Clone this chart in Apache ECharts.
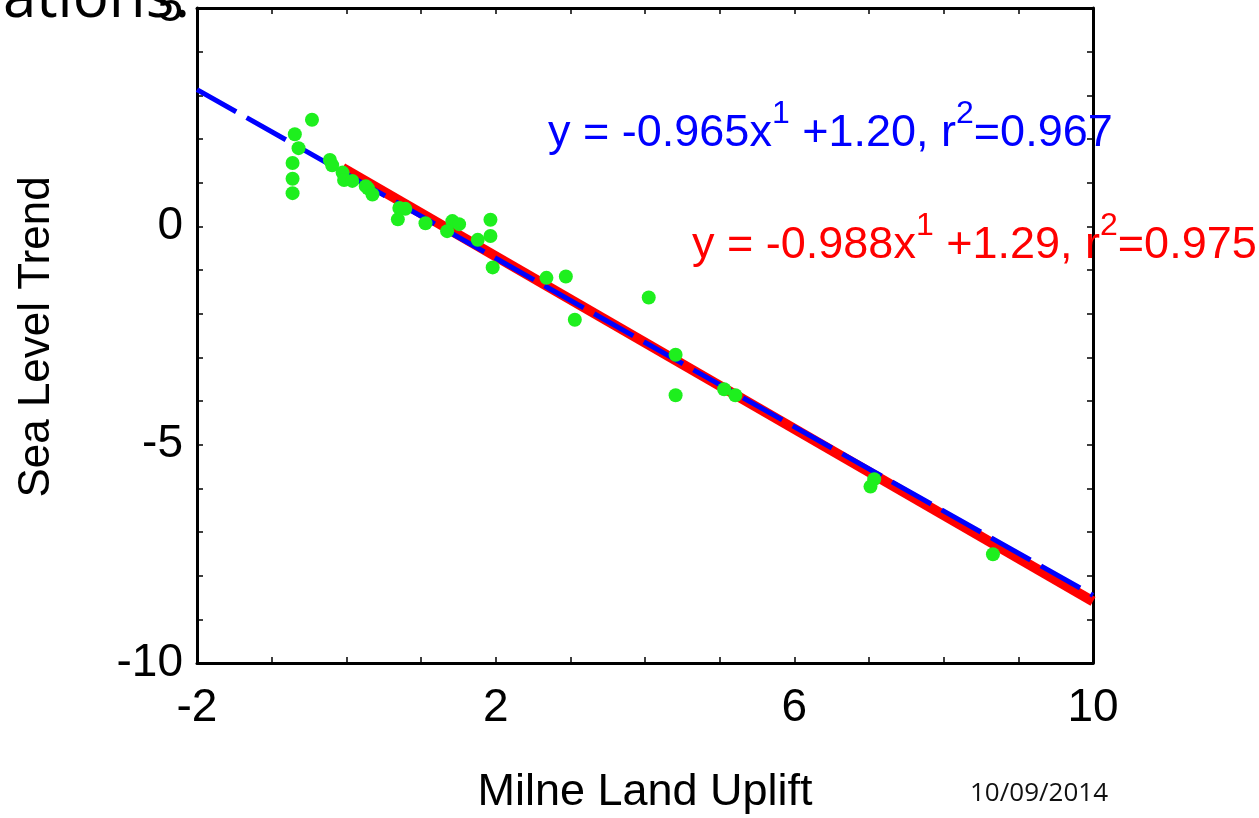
<!DOCTYPE html>
<html><head><meta charset="utf-8">
<script src="https://cdn.jsdelivr.net/npm/echarts@6/dist/echarts.min.js"></script>
<style>html,body{margin:0;padding:0;background:#fff;overflow:hidden}#c{width:1259px;height:818px}</style>
</head><body><div id="c"></div>
<script>
// Observed points: Milne land uplift (x) vs sea level trend (y)
const uplift = [-0.46,-0.69,-0.64,-0.72,-0.72,-0.72,-0.22,-0.19,-0.05,-0.03,0.08,0.26,0.29,0.35,0.71,0.79,0.69,1.06,1.42,1.51,1.35,1.76,1.93,1.93,1.96,2.68,2.94,3.06,4.05,4.41,4.41,5.06,5.21,7.07,7.02,8.66];
const trend  = [2.44,2.11,1.79,1.45,1.09,0.76,1.52,1.40,1.23,1.06,1.04,0.92,0.87,0.73,0.42,0.40,0.16,0.07,0.12,0.05,-0.11,-0.31,0.15,-0.22,-0.94,-1.18,-1.15,-2.14,-1.63,-2.94,-3.87,-3.73,-3.87,-5.79,-5.96,-7.51];
// Fit line end points (x, y)
const blueFitX = [-2, 10];
const blueFitY = [3.13, -8.45];
const redFitX = [-0.05, 10];
const redFitY = [1.34, -8.59];
// Tick labels
const xTickLabels = ['-2','2','6','10'];
const yTickLabels = ['-10','-5','0','5'];

const FONT = '"Liberation Sans", Arial, sans-serif';
const OPEN = '"Open Sans", "Noto Sans", sans-serif';
const chart = echarts.init(document.getElementById('c'), null, {renderer:'canvas'});

function pairs(xs, ys){ return xs.map((x,i)=>[x, ys[i]]); }

const axisLine = {show:true, onZero:false, lineStyle:{color:'#000', width:3}};
const axisTick = {show:true, inside:true, length:6, lineStyle:{color:'#000', width:1.5}};

chart.setOption({
  animation:false,
  backgroundColor:'#fff',
  grid:{left:197, right:166, top:8, bottom:155, containLabel:false, outerBoundsMode:'none'},
  xAxis:[{
    type:'value', min:-2, max:10, interval:1, position:'bottom',
    axisLine, axisTick, splitLine:{show:false},
    axisLabel:{margin:22, color:'#000', fontFamily:FONT, fontSize:46,
      formatter:v=>{const s=String(v); return xTickLabels.indexOf(s)>=0?s:'';}}
  },{
    type:'value', min:-2, max:10, interval:1, position:'top',
    axisLine, axisTick, splitLine:{show:false}, axisLabel:{show:false}
  }],
  yAxis:[{
    type:'value', min:-10, max:5, interval:1, position:'left',
    axisLine, axisTick, splitLine:{show:false},
    axisLabel:{margin:14, color:'#000', fontFamily:FONT, fontSize:46,
      formatter:v=>{const s=String(v); return yTickLabels.indexOf(s)>=0?s:'';}}
  },{
    type:'value', min:-10, max:5, interval:1, position:'right',
    axisLine, axisTick, splitLine:{show:false}, axisLabel:{show:false}
  }],
  series:[
    {type:'line', data:pairs(redFitX, redFitY), symbol:'none', z:2,
      lineStyle:{color:'#ff0000', width:10}},
    {type:'line', data:pairs(blueFitX, blueFitY), symbol:'none', z:3,
      lineStyle:{color:'#0000ff', width:5, type:[45,12]}},
    {type:'scatter', data:pairs(uplift, trend), symbolSize:14, z:4,
      itemStyle:{color:'#1eef1e', opacity:1}}
  ],
  graphic:[
    {type:'text', x:190, y:0, z:1, style:{text:'lations:', font:'60px '+OPEN, fill:'#000', align:'right', verticalAlign:'middle'}},
    {type:'text', x:37, y:337, rotation:Math.PI/2, style:{text:'Sea Level Trend', font:'44px '+FONT, fill:'#000', align:'center', verticalAlign:'middle'}},
    {type:'text', x:645, y:793, style:{text:'Milne Land Uplift', font:'45px '+FONT, fill:'#000', align:'center', verticalAlign:'middle'}},
    {type:'text', x:1039, y:794, style:{text:'10/09/2014', font:'26px '+OPEN, fill:'#111', align:'center', verticalAlign:'middle'}},
    {type:'text', x:548, y:98, z:10, style:{
      text:'{m|y = -0.965x}{s|1}{m| +1.20, r}{s|2}{m|=0.967}', align:'left', verticalAlign:'top',
      rich:{m:{font:'45px '+FONT, fill:'#0000ff', lineHeight:58, verticalAlign:'bottom'},
            s:{font:'32px '+FONT, fill:'#0000ff', lineHeight:32, verticalAlign:'top'}}}},
    {type:'text', x:692, y:210, z:10, style:{
      text:'{m|y = -0.988x}{s|1}{m| +1.29, r}{s|2}{m|=0.975}', align:'left', verticalAlign:'top',
      rich:{m:{font:'45px '+FONT, fill:'#ff0000', lineHeight:58, verticalAlign:'bottom'},
            s:{font:'32px '+FONT, fill:'#ff0000', lineHeight:32, verticalAlign:'top'}}}}
  ]
});
</script></body></html>
